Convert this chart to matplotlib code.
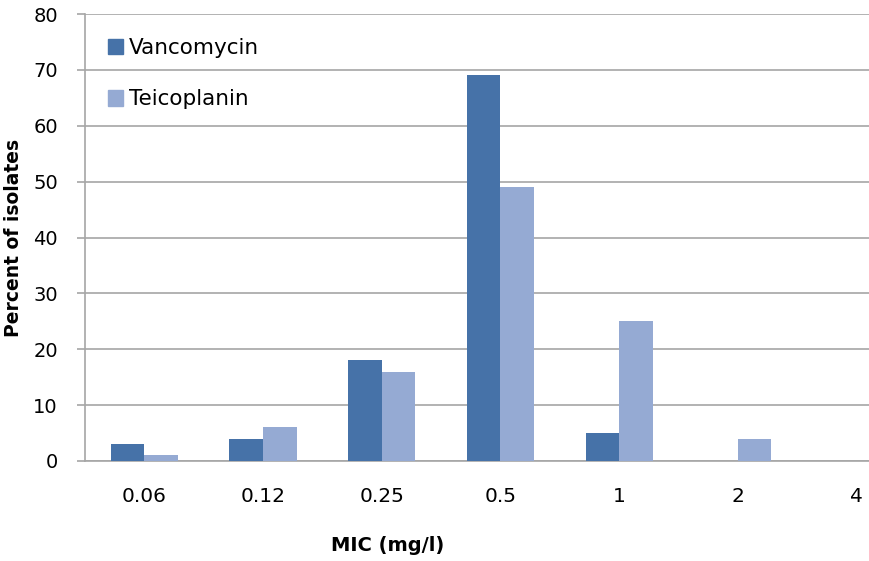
import matplotlib
matplotlib.use("Agg")
import matplotlib.pyplot as plt
import numpy as np
from matplotlib.patches import Patch

categories = ["0.06", "0.12", "0.25", "0.5", "1", "2", "4"]
vancomycin = [3, 4, 18, 69, 5, 0, 0]
teicoplanin = [1, 6, 16, 49, 25, 4, 0]
series_names = ["Vancomycin", "Teicoplanin"]
colors = ["#4672A8", "#95AAD3"]

plt.rcParams['font.family'] = ['DejaVu Sans']

fig = plt.figure(figsize=(8.69, 5.61), dpi=100)
ax = fig.add_axes([85/869, 100/561, 784/869, 447/561])

x = np.arange(len(categories))
w = 0.283
ax.bar(x - w/2, vancomycin, w, color=colors[0], label=series_names[0], zorder=3)
ax.bar(x + w/2, teicoplanin, w, color=colors[1], label=series_names[1], zorder=3)

ax.set_xlim(-0.5, 6.105)
ax.set_ylim(0, 80)
ax.set_yticks(np.arange(0, 81, 10))
ax.set_xticks(x)
ax.set_xticklabels(categories)
ax.yaxis.grid(True, color="#A6A6A6", linewidth=1.2, zorder=0)
ax.set_axisbelow(True)
for s in ["top", "right"]:
    ax.spines[s].set_visible(False)
for s in ["left", "bottom"]:
    ax.spines[s].set_color("#A6A6A6")
    ax.spines[s].set_linewidth(1.2)
ax.tick_params(axis="y", length=5.5, color="#A6A6A6", width=1.2, pad=14, labelsize=14)
ax.tick_params(axis="x", length=0, pad=19, labelsize=14.5)

ax.set_ylabel("Percent of isolates", fontsize=13.5, fontweight="bold")
ax.yaxis.label.set_va("center")
ax.yaxis.set_label_coords(-0.0906, 0.5)
ax.set_xlabel("MIC (mg/l)", fontsize=14, fontweight="bold")
ax.xaxis.label.set_va("center")
ax.xaxis.set_label_coords(0.386, -0.188)

handles = [Patch(color=c) for c in colors]
ax.legend(handles, series_names, loc="upper left", bbox_to_anchor=(0.029, 0.946),
          frameon=False, fontsize=15.5, handlelength=0.72, handleheight=0.72,
          handletextpad=0.25, labelspacing=1.45, borderpad=0, borderaxespad=0)

fig.savefig("out.png", dpi=100)
